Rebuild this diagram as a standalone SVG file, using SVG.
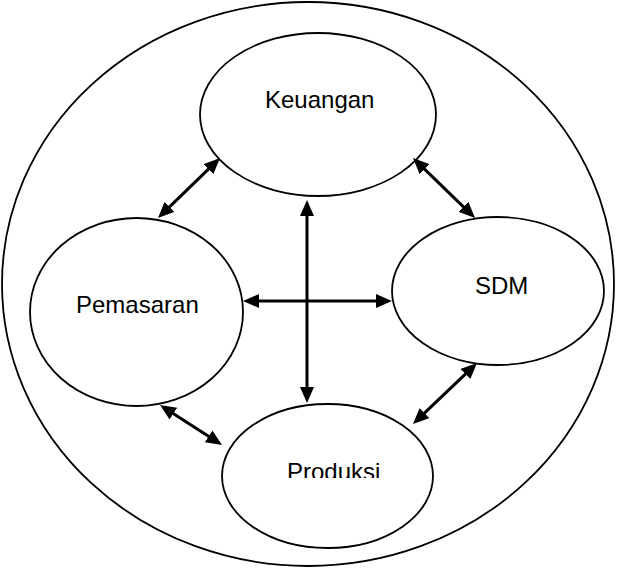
<svg xmlns="http://www.w3.org/2000/svg" width="617" height="568" viewBox="0 0 617 568">
<style>
.node{fill:#fff;stroke:#000;stroke-width:1.8}
.lbl{font-family:"Liberation Sans",Arial,sans-serif;font-size:24px;fill:#000}
.conn{stroke:#000;stroke-width:3;fill:none;marker-start:url(#ah);marker-end:url(#ah)}
</style>
<defs>
<marker id="ah" viewBox="0 0 16 14" markerWidth="16" markerHeight="14" refX="10" refY="7" orient="auto-start-reverse" markerUnits="userSpaceOnUse">
<path d="M0,0 L16,7 L0,14 z" fill="#000"/>
</marker>
<clipPath id="clipP"><rect x="0" y="0" width="617" height="478"/></clipPath>
</defs>
<rect width="617" height="568" fill="#fff"/>
<g id="outer"><ellipse class="node" cx="308" cy="284" rx="306" ry="282"/></g>
<g id="keuangan"><ellipse class="node" cx="318" cy="114.5" rx="118" ry="81.5"/><text class="lbl" x="265" y="108">Keuangan</text></g>
<g id="pemasaran"><ellipse class="node" cx="136.5" cy="312" rx="106.5" ry="94"/><text class="lbl" x="76" y="313">Pemasaran</text></g>
<g id="sdm"><ellipse class="node" cx="498" cy="291" rx="106" ry="74"/><text class="lbl" x="475" y="294">SDM</text></g>
<g id="produksi"><ellipse class="node" cx="327.5" cy="476" rx="105.5" ry="72"/><text class="lbl" x="287" y="480" clip-path="url(#clipP)">Produksi</text></g>
<g id="connectors">
<line class="conn" x1="162.3" y1="213.8" x2="215.7" y2="162.2"/>
<line class="conn" x1="417.3" y1="162.2" x2="470.7" y2="213.8"/>
<line class="conn" x1="249" y1="301" x2="386" y2="301"/>
<line class="conn" x1="307" y1="206" x2="307" y2="397"/>
<line class="conn" x1="165" y1="408.3" x2="217" y2="441.7"/>
<line class="conn" x1="472.7" y1="367.1" x2="417.3" y2="419.9"/>
</g>
</svg>
